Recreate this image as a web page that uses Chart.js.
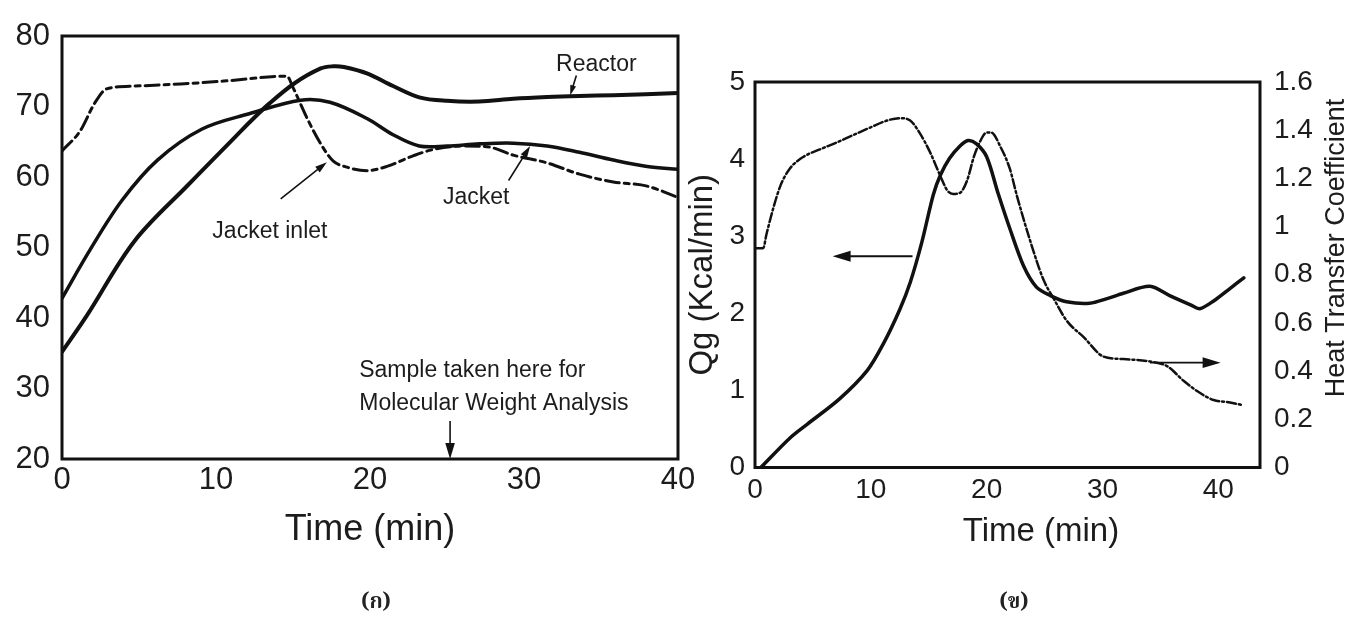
<!DOCTYPE html>
<html>
<head>
<meta charset="utf-8">
<script src="https://cdn.jsdelivr.net/npm/chart.js@4/dist/chart.umd.min.js"></script>
<style>
    html, body { margin: 0; padding: 0; background: #fff; }
    body { width: 1357px; height: 619px; position: relative; overflow: hidden; }
    canvas { position: absolute; top: 0; }
    #grafica-temp { left: 0; }
    #grafica-calor { left: 680px; }
    .rotulo {
        position: absolute;
        top: 586px;
        font: bold 21px "Noto Serif Thai", "Noto Sans Thai", "Loma", "Garuda", serif;
        color: #222;
        transform: translateX(-50%);
    }
</style>
</head>
<body>
<canvas id="grafica-temp" width="700" height="619"></canvas>
<canvas id="grafica-calor" width="677" height="619"></canvas>
<div class="rotulo" style="left:376px">(ก)</div>
<div class="rotulo" style="left:1014px">(ข)</div>
<script>
// (ก) temperaturas frente al tiempo
const tiempoReactor = [0, 1.6, 4.7, 8.2, 11.3, 12.2, 13.4, 15.1, 16.8, 17.6, 18.3, 19.8, 21.5, 23.2, 25, 27.1, 29.3, 31.5, 33.6, 35.8, 40];
const tempReactor = [35.2, 40.3, 50.9, 58.9, 65.8, 67.8, 70.3, 73.3, 75.4, 75.7, 75.6, 74.7, 72.9, 71.3, 70.8, 70.7, 71.1, 71.35, 71.5, 71.6, 71.9];

const tiempoChaqueta = [0, 1.8, 3.9, 6.2, 9.1, 12.2, 15.5, 17.4, 19.8, 21.5, 23.2, 25, 27.1, 29.3, 31.5, 33.6, 35.8, 38, 40];
const tempChaqueta = [42.8, 49.6, 56.7, 62.4, 66.8, 69.0, 70.9, 70.6, 68.3, 66.0, 64.4, 64.4, 64.7, 64.8, 64.4, 63.5, 62.4, 61.5, 61.1];

const tiempoEntrada = [0, 1.2, 2.1, 2.9, 4.7, 7.7, 10.5, 14.6, 15.0, 15.9, 16.8, 17.6, 18.5, 19.8, 21.1, 22.8, 24.1, 26.1, 27.6, 29.3, 31.5, 33.6, 35.8, 38, 40];
const tempEntrada = [63.7, 66.6, 70.4, 72.5, 72.9, 73.2, 73.6, 74.3, 72.7, 68.4, 64.7, 62.3, 61.4, 60.9, 61.5, 63.0, 63.9, 64.4, 64.3, 63.1, 62.0, 60.4, 59.3, 58.7, 57.1];

const ejeTempX = [0, 10, 20, 30, 40];
const ejeTempY = [20, 30, 40, 50, 60, 70, 80];

// (ข) calor generado y coeficiente de transferencia
const tiempoQg = [0.5, 3.0, 4.5, 7.3, 9.7, 11.1, 12.5, 13.4, 14.4, 15.4, 16.0, 16.8, 17.7, 18.4, 19.1, 20.0, 21.0, 22.0, 23.2, 24.3, 25.5, 26.9, 28.9, 30.4, 31.8, 34.1, 35.8, 37.6, 38.4, 39.6, 41.0, 42.2];
const valorQg = [0, 0.38, 0.56, 0.89, 1.26, 1.61, 2.05, 2.40, 2.92, 3.54, 3.79, 4.01, 4.17, 4.24, 4.20, 4.03, 3.55, 3.10, 2.61, 2.34, 2.23, 2.15, 2.13, 2.19, 2.26, 2.35, 2.23, 2.11, 2.06, 2.16, 2.32, 2.46];

const tiempoU = [0.1, 0.7, 1.0, 1.6, 2.2, 3.0, 4.2, 5.6, 7.1, 8.5, 9.9, 11.4, 12.5, 13.4, 14.2, 15.1, 16.0, 16.6, 17.1, 17.7, 18.3, 18.9, 19.4, 20.0, 20.4, 21.2, 22.0, 22.6, 23.7, 24.9, 25.8, 26.9, 28.4, 30.1, 31.8, 34.1, 35.6, 37.0, 38.4, 39.6, 41.0, 42.0];
const valorU = [0.91, 0.91, 0.97, 1.08, 1.17, 1.24, 1.29, 1.32, 1.35, 1.38, 1.41, 1.44, 1.45, 1.44, 1.39, 1.31, 1.21, 1.15, 1.135, 1.14, 1.19, 1.29, 1.35, 1.39, 1.39, 1.33, 1.24, 1.13, 0.95, 0.78, 0.70, 0.61, 0.54, 0.46, 0.45, 0.44, 0.42, 0.36, 0.31, 0.28, 0.27, 0.26];

const ejeCalorX = [0, 10, 20, 30, 40];
const ejeQg = [0, 1, 2, 3, 4, 5];
const ejeU = [0, 0.2, 0.4, 0.6, 0.8, 1, 1.2, 1.4, 1.6];

const NEGRO = "#111";
const TEXTO = "#1c1c1c";
const FUENTE = "'Liberation Sans', Arial, sans-serif";

Chart.defaults.font.family = FUENTE;
Chart.defaults.color = TEXTO;

function puntos(xs, ys) {
    return xs.map((x, i) => ({ x: x, y: ys[i] }));
}

function ticksDesde(valores) {
    return (escala) => {
        escala.ticks = valores.map((v) => ({ value: v }));
    };
}

function flecha(ctx, x1, y1, x2, y2, grosor, punta) {
    const ang = Math.atan2(y2 - y1, x2 - x1);
    const ancho = punta * 0.3;
    ctx.lineWidth = grosor;
    ctx.beginPath();
    ctx.moveTo(x1, y1);
    ctx.lineTo(x2 - Math.cos(ang) * punta * 0.7, y2 - Math.sin(ang) * punta * 0.7);
    ctx.stroke();
    ctx.beginPath();
    ctx.moveTo(x2, y2);
    ctx.lineTo(x2 - punta * Math.cos(ang) + ancho * Math.sin(ang), y2 - punta * Math.sin(ang) - ancho * Math.cos(ang));
    ctx.lineTo(x2 - punta * Math.cos(ang) - ancho * Math.sin(ang), y2 - punta * Math.sin(ang) + ancho * Math.cos(ang));
    ctx.closePath();
    ctx.fill();
}

// recuadro completo alrededor del area de la grafica
const marco = {
    id: "marco",
    afterDatasetsDraw(chart) {
        const { ctx, chartArea } = chart;
        ctx.save();
        ctx.strokeStyle = NEGRO;
        ctx.lineWidth = 3;
        ctx.strokeRect(chartArea.left, chartArea.top, chartArea.right - chartArea.left, chartArea.bottom - chartArea.top);
        ctx.restore();
    }
};

// notas de la grafica (ก), en unidades de los ejes
const textosTemp = [
    { texto: "Reactor", x: 34.7, y: 75.9, alinear: "center" },
    { texto: "Jacket inlet", x: 13.5, y: 52.3, alinear: "center" },
    { texto: "Jacket", x: 26.9, y: 57.0, alinear: "center" },
    { texto: "Sample taken here for", x: 19.3, y: 32.5, alinear: "left" },
    { texto: "Molecular Weight Analysis", x: 19.3, y: 27.8, alinear: "left" }
];
const flechasTemp = [
    { x1: 33.4, y1: 74.4, x2: 33.0, y2: 71.6, punta: 10 },
    { x1: 14.2, y1: 56.9, x2: 17.2, y2: 62.1, punta: 12 },
    { x1: 29.0, y1: 59.5, x2: 30.4, y2: 64.4, punta: 12 },
    { x1: 25.2, y1: 25.4, x2: 25.2, y2: 20.0, punta: 16 }
];

const notasTemp = {
    id: "notasTemp",
    afterDatasetsDraw(chart) {
        const { ctx, scales } = chart;
        ctx.save();
        ctx.fillStyle = TEXTO;
        ctx.strokeStyle = NEGRO;
        ctx.font = "23px " + FUENTE;
        ctx.textBaseline = "middle";
        textosTemp.forEach((nota) => {
            ctx.textAlign = nota.alinear;
            ctx.fillText(nota.texto, scales.x.getPixelForValue(nota.x), scales.y.getPixelForValue(nota.y));
        });
        ctx.fillStyle = NEGRO;
        flechasTemp.forEach((f) => {
            flecha(ctx, scales.x.getPixelForValue(f.x1), scales.y.getPixelForValue(f.y1),
                scales.x.getPixelForValue(f.x2), scales.y.getPixelForValue(f.y2), 1.6, f.punta);
        });
        ctx.restore();
    }
};

// flechas de la grafica (ข): cada una indica su eje
const flechasCalor = [
    { eje: "y", x1: 13.6, y1: 2.74, x2: 6.7, y2: 2.74 },
    { eje: "y1", x1: 34.1, y1: 0.435, x2: 40.2, y2: 0.435 }
];

const notasCalor = {
    id: "notasCalor",
    afterDatasetsDraw(chart) {
        const { ctx, scales, chartArea } = chart;
        ctx.save();
        ctx.strokeStyle = NEGRO;
        ctx.fillStyle = NEGRO;
        flechasCalor.forEach((f) => {
            const eje = scales[f.eje];
            flecha(ctx, scales.x.getPixelForValue(f.x1), eje.getPixelForValue(f.y1),
                scales.x.getPixelForValue(f.x2), eje.getPixelForValue(f.y2), 1.8, 18);
        });
        ctx.fillStyle = TEXTO;
        ctx.textAlign = "center";
        ctx.textBaseline = "middle";
        // titulo del eje x, algo corrido a la derecha como en el original
        ctx.font = "33px " + FUENTE;
        ctx.fillText("Time (min)", chartArea.left + 286, 532);
        // titulo del eje derecho, leido de abajo hacia arriba
        ctx.font = "27px " + FUENTE;
        ctx.translate(chartArea.right + 77, 248);
        ctx.rotate(-Math.PI / 2);
        ctx.fillText("Heat Transfer Coefficient", 0, 0);
        ctx.restore();
    }
};

const lineaBase = {
    point: { radius: 0 },
    line: { borderColor: NEGRO, borderCapStyle: "round", borderJoinStyle: "round" }
};

new Chart(document.getElementById("grafica-temp"), {
    type: "line",
    data: {
        datasets: [
            { label: "Reactor", data: puntos(tiempoReactor, tempReactor), borderWidth: 4, tension: 0.35 },
            { label: "Jacket", data: puntos(tiempoChaqueta, tempChaqueta), borderWidth: 3.5, tension: 0.35 },
            { label: "Jacket inlet", data: puntos(tiempoEntrada, tempEntrada), borderWidth: 3, borderDash: [14, 5, 5, 5], cubicInterpolationMode: "monotone" }
        ]
    },
    options: {
        responsive: false,
        animation: false,
        devicePixelRatio: 1,
        layout: { padding: { top: 36, right: 22, bottom: 0, left: 0 } },
        elements: lineaBase,
        plugins: { legend: { display: false }, tooltip: { enabled: false } },
        scales: {
            x: {
                type: "linear",
                min: 0,
                max: 40,
                afterBuildTicks: ticksDesde(ejeTempX),
                afterFit: (s) => { s.height = 160; },
                grid: { display: false, drawTicks: false },
                border: { display: false },
                ticks: { padding: 3, maxRotation: 0, font: { size: 31 } },
                title: { display: true, text: "Time (min)", font: { size: 36 }, padding: { top: 0, bottom: 67 } }
            },
            y: {
                min: 20,
                max: 80,
                afterBuildTicks: ticksDesde(ejeTempY),
                afterFit: (s) => { s.width = 62; },
                grid: { display: false, drawTicks: false },
                border: { display: false },
                ticks: { padding: 12, font: { size: 31 } }
            }
        }
    },
    plugins: [marco, notasTemp]
});

new Chart(document.getElementById("grafica-calor"), {
    type: "line",
    data: {
        datasets: [
            { label: "Qg", data: puntos(tiempoQg, valorQg), borderWidth: 3.5, tension: 0.3, yAxisID: "y" },
            { label: "Heat Transfer Coefficient", data: puntos(tiempoU, valorU), borderWidth: 2.5, borderDash: [9, 3, 2, 3], cubicInterpolationMode: "monotone", yAxisID: "y1" }
        ]
    },
    options: {
        responsive: false,
        animation: false,
        devicePixelRatio: 1,
        layout: { padding: { top: 82, right: 0, bottom: 0, left: 0 } },
        elements: lineaBase,
        plugins: { legend: { display: false }, tooltip: { enabled: false } },
        scales: {
            x: {
                type: "linear",
                min: 0,
                max: 43.6,
                afterBuildTicks: ticksDesde(ejeCalorX),
                afterFit: (s) => { s.height = 151.5; },
                grid: { display: false, drawTicks: false },
                border: { display: false },
                ticks: { padding: 6, maxRotation: 0, font: { size: 28 } }
            },
            y: {
                position: "left",
                min: 0,
                max: 5,
                afterBuildTicks: ticksDesde(ejeQg),
                afterFit: (s) => { s.width = 75; },
                grid: { display: false, drawTicks: false },
                border: { display: false },
                ticks: { padding: 10, font: { size: 28 } },
                title: { display: true, text: "Qg (Kcal/min)", font: { size: 33 }, padding: { top: 3, bottom: 0 } }
            },
            y1: {
                position: "right",
                min: 0,
                max: 1.6,
                afterBuildTicks: ticksDesde(ejeU),
                afterFit: (s) => { s.width = 97; },
                grid: { display: false, drawTicks: false },
                border: { display: false },
                ticks: { padding: 14, font: { size: 28 }, callback: (v) => String(Math.round(v * 10) / 10) }
            }
        }
    },
    plugins: [marco, notasCalor]
});
</script>
</body>
</html>
